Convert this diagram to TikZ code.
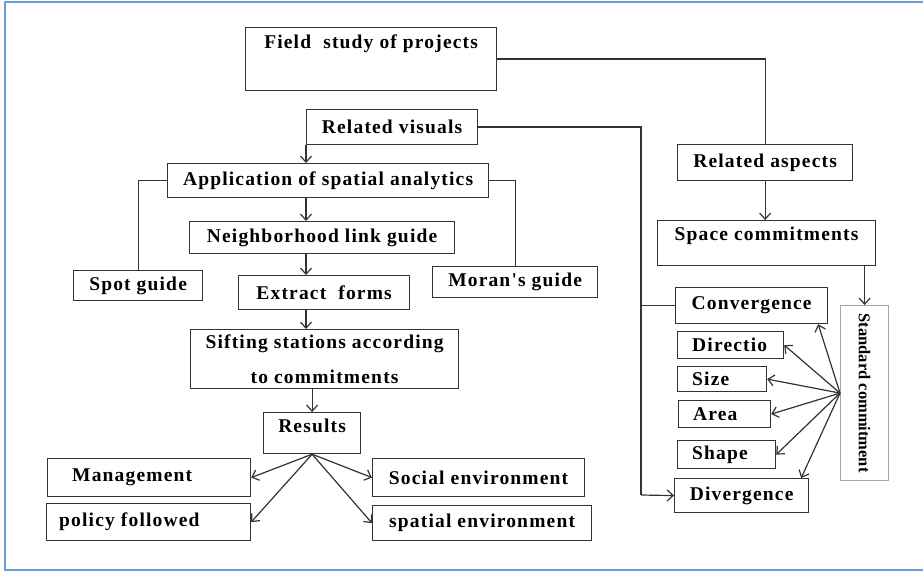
\documentclass[tikz,border=0pt]{standalone}
\usepackage{fontspec}
\setmainfont{Liberation Serif}
\newfontfamily\spacedfont{Liberation Serif}[LetterSpace=6]
\usepackage{tikz}
\usetikzlibrary{arrows,arrows.meta,positioning}
\definecolor{frameblue}{HTML}{6A9FD4}
\definecolor{boxline}{HTML}{333333}
\definecolor{stdline}{HTML}{A8A8A8}
\newcommand{\boxfont}{\spacedfont\bfseries\fontsize{19.5}{21}\selectfont}
\tikzset{
  box/.style={draw=boxline, line width=1.2pt, rectangle, inner sep=0pt, anchor=north west, font=\boxfont},
  toptext/.style={anchor=north, yshift=-7pt, inner sep=0pt, font=\boxfont},
  lefttext/.style={anchor=west, inner sep=0pt, font=\boxfont},
  conn/.style={draw=boxline, line width=1.2pt},
  >={Straight Barb[length=6pt,width=11pt]}
}

\begin{document}
\begin{tikzpicture}[x=1pt,y=-1pt]
        \useasboundingbox (0,0) rectangle (923,572);
        \draw[frameblue, line width=1.5pt] (923,2) -- (5,2) -- (5,570) -- (923,570);

        % left column
        \node[box, minimum width=251, minimum height=63, label={[toptext, yshift=-1pt]north:Field~ study of projects}] (field) at (245,27) {};
        \node[box, minimum width=171, minimum height=35] (visuals) at (306,109) {Related visuals};
        \node[box, minimum width=321, minimum height=34] (application) at (167,163) {Application of spatial analytics};
        \node[box, minimum width=265, minimum height=32] (neighbor) at (189,221) {Neighborhood link guide};
        \node[box, minimum width=129, minimum height=30] (spot) at (73,270) {Spot guide};
        \node[box, minimum width=171, minimum height=34] (extract) at (238,275) {Extract~ forms};
        \node[box, minimum width=165, minimum height=31] (moran) at (432,266) {Moran's guide};
        \node[box, minimum width=268, minimum height=59, align=center] (sifting) at (190,329) {Sifting stations according\\[14pt]to commitments};
        \node[box, minimum width=97, minimum height=41, label={[toptext]north:Results}] (results) at (263,412) {};
        \node[box, minimum width=203, minimum height=38, label={[lefttext, xshift=25pt]west:Management}] (management) at (47,458) {};
        \node[box, minimum width=204, minimum height=37, label={[lefttext, xshift=13pt]west:policy followed}] (policy) at (46,503) {};
        \node[box, minimum width=212, minimum height=38] (social) at (372,458) {Social environment};
        \node[box, minimum width=219, minimum height=35] (spatial) at (372,505) {spatial environment};

        % right column
        \node[box, minimum width=175, minimum height=36] (aspects) at (677,144) {Related aspects};
        \node[box, minimum width=218, minimum height=45, label={[toptext]north:Space commitments}] (space) at (657,220) {};
        \node[box, minimum width=152, minimum height=36] (convergence) at (675,287) {Convergence};
        \node[box, minimum width=106, minimum height=27, label={[lefttext, xshift=15pt]west:Directio}] (directio) at (677,331) {};
        \node[box, minimum width=89, minimum height=25, label={[lefttext, xshift=15pt]west:Size}] (size) at (677,366) {};
        \node[box, minimum width=92, minimum height=27, label={[lefttext, xshift=15pt]west:Area}] (area) at (678,400) {};
        \node[box, minimum width=98, minimum height=28, label={[lefttext, xshift=15pt]west:Shape}] (shape) at (677,440) {};
        \node[box, minimum width=134, minimum height=34] (divergence) at (674,478) {Divergence};
        \node[box, draw=stdline, minimum width=48, minimum height=175, font=\bfseries\fontsize{16.5}{18}\selectfont] (standard) at (840,305) {\rotatebox{-90}{Standard commitment}};

        \coordinate (spine) at (306,0);
        \coordinate (trunk) at (641,495);

        \draw[conn] (field.east) -| (aspects.north);
        \draw[conn,->] (aspects.south) -- (aspects.south |- space.north);
        \draw[conn,->] (space.south -| standard.north) -- (standard.north);
        \draw[conn] (visuals.east) -| (trunk);
        \draw[conn,->] (trunk) -- (divergence.west);
        \draw[conn] (convergence.west) -- (convergence.west -| trunk);

        \draw[conn,->] (visuals.south west) -- (visuals.south west |- application.north);
        \draw[conn] (application.west) -| (spot.north);
        \draw[conn] (application.east) -| (moran.north);
        \draw[conn,->] (application.south -| spine) -- (neighbor.north -| spine);
        \draw[conn,->] (neighbor.south -| spine) -- (extract.north -| spine);
        \draw[conn,->] (extract.south -| spine) -- (sifting.north -| spine);
        \draw[conn,->] (sifting.south -| results.north) -- (results.north);
        \foreach \t in {management.east, policy.east, social.west, spatial.west}
            \draw[conn,->] (results.south) -- (\t);

        \foreach \t in {directio.east, size.east, area.east, shape.east}
            \draw[conn,->] (standard.west) -- (\t);
        \draw[conn,->] (standard.west) -- ([xshift=-10pt]convergence.south east);
        \draw[conn,->] (standard.west) -- ([xshift=-8pt]divergence.north east);
    \end{tikzpicture}
\end{document}
